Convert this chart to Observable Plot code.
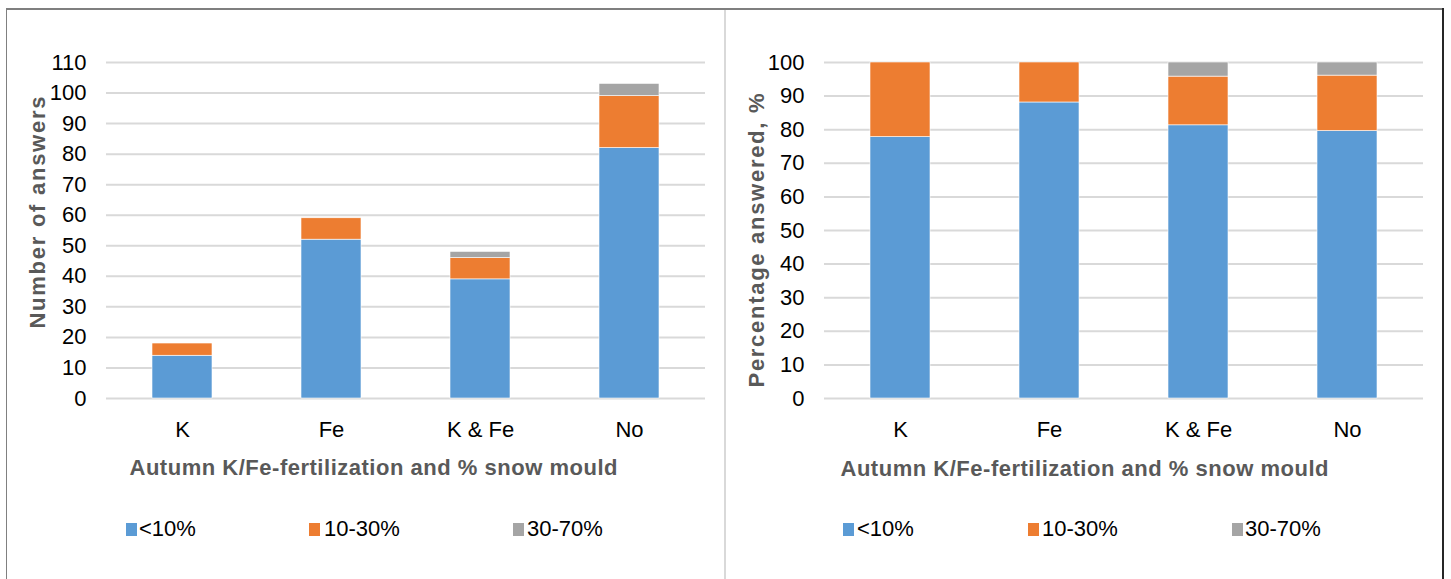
<!DOCTYPE html>
<html>
<head>
<meta charset="utf-8">
<script src="https://cdn.jsdelivr.net/npm/d3@7"></script>
<script src="https://cdn.jsdelivr.net/npm/@observablehq/plot@0.6"></script>
<style>
  html, body { margin: 0; padding: 0; background: #fff; }
  #wrap { position: relative; width: 1451px; height: 579px; overflow: hidden; background: #fff;
          font-family: "Liberation Sans", Arial, sans-serif; }
  .panel { position: absolute; top: 0; }
  .line { position: absolute; z-index: 5; }
  .sw { position: absolute; width: 11px; height: 13px; }
  .lt { position: absolute; font-size: 22px; color: #000; white-space: nowrap; line-height: 22px; }
</style>
</head>
<body>
<div id="wrap"></div>
<script>
// ---- data ----
const categories = ["K", "Fe", "K & Fe", "No"];
const series = ["<10%", "10-30%", "30-70%"];
const colors = ["#5b9bd5", "#ed7d31", "#a5a5a5"];

// left chart: number of answers
const countLow  = [14, 52, 39, 82];
const countMid  = [4, 7, 7, 17];
const countHigh = [0, 0, 2, 4];
const countTicks = [0, 10, 20, 30, 40, 50, 60, 70, 80, 90, 100, 110];

// right chart: percentage answered
const pctLow  = [77.8, 88.1, 81.3, 79.6];
const pctMid  = [22.2, 11.9, 14.5, 16.5];
const pctHigh = [0, 0, 4.2, 3.9];
const pctTicks = [0, 10, 20, 30, 40, 50, 60, 70, 80, 90, 100];

const xTitle = "Autumn K/Fe-fertilization and % snow mould";
const yTitleLeft = "Number of answers";
const yTitleRight = "Percentage answered, %";

const FONT = "'Liberation Sans', Arial, sans-serif";

function longData(low, mid, high) {
  const rows = [];
  categories.forEach((c, i) => {
    [low[i], mid[i], high[i]].forEach((v, j) => {
      if (v > 0) rows.push({cat: c, series: series[j], value: v});
    });
  });
  return rows;
}

function makeChart(o) {
  const data = longData(o.low, o.mid, o.high);
  const svg = Plot.plot({
    width: o.width,
    height: 500,
    marginTop: 62,
    marginBottom: 102,
    marginLeft: o.marginLeft,
    marginRight: o.marginRight,
    style: {fontFamily: FONT, fontSize: "22px", color: "#000", background: "transparent", overflow: "visible"},
    x: {domain: categories, paddingInner: 0.6, paddingOuter: 0.3, label: null},
    y: {domain: [0, o.yMax], label: null},
    color: {domain: series, range: colors},
    marks: [
      Plot.gridY(o.ticks, {stroke: "#d9d9d9", strokeOpacity: 1, strokeWidth: 2}),
      Plot.barY(data, {x: "cat", y: "value", fill: "series", stroke: "#ffffff", strokeWidth: 0.6}),
      Plot.axisY(o.ticks, {tickSize: 0, tickPadding: 20, fontSize: 22, label: null}),
      Plot.axisX({tickSize: 0, tickPadding: 23, fontSize: 22, label: null}),
      Plot.text([o.yTitle], {text: d => d, frameAnchor: "left", textAnchor: "middle", rotate: -90,
        dx: o.yDx, dy: o.yDy, fontSize: 22, fontWeight: "bold", fill: "#595959"}),
      Plot.text([xTitle], {text: d => d, frameAnchor: "bottom", textAnchor: "middle", dx: o.xDx, dy: o.xDy,
        fontSize: 22, fontWeight: "bold", fill: "#595959"})
    ]
  });
  d3.select(svg).selectAll("text").each(function() {
    const t = this.textContent;
    if (t === o.yTitle) d3.select(this).attr("textLength", o.yLen).attr("lengthAdjust", "spacing");
    if (t === xTitle) d3.select(this).attr("textLength", 488).attr("lengthAdjust", "spacing");
  });
  const div = document.createElement("div");
  div.className = "panel";
  div.style.left = o.left + "px";
  div.appendChild(svg);
  return div;
}

const wrap = document.getElementById("wrap");

wrap.appendChild(makeChart({
  left: 0, width: 725, marginLeft: 106, marginRight: 20,
  low: countLow, mid: countMid, high: countHigh, yMax: 110, ticks: countTicks,
  yTitle: yTitleLeft, yDx: -69, yDy: -18, yLen: 232, xDx: -32.5, xDy: 76
}));

wrap.appendChild(makeChart({
  left: 725, width: 726, marginLeft: 99, marginRight: 28,
  low: pctLow, mid: pctMid, high: pctHigh, yMax: 100, ticks: pctTicks,
  yTitle: yTitleRight, yDx: -68, yDy: 10, yLen: 294, xDx: -39.5, xDy: 77
}));

// legends
function legend(swatchX, textX) {
  series.forEach((s, i) => {
    const sw = document.createElement("div");
    sw.className = "sw";
    sw.style.left = swatchX[i] + "px";
    sw.style.top = "523px";
    sw.style.background = colors[i];
    sw.style.zIndex = 4;
    wrap.appendChild(sw);
    const t = document.createElement("div");
    t.className = "lt";
    t.style.left = textX[i] + "px";
    t.style.top = "518px";
    t.style.zIndex = 4;
    t.textContent = s;
    wrap.appendChild(t);
  });
}
legend([126, 309, 513], [139, 324, 527]);
legend([843, 1028, 1232], [857, 1042, 1245]);

// frame lines
function line(l, t, w, h, c) {
  const d = document.createElement("div");
  d.className = "line";
  Object.assign(d.style, {left: l + "px", top: t + "px", width: w + "px", height: h + "px", background: c});
  wrap.appendChild(d);
}
line(7, 8, 1437, 2, "#7f7f7f");
line(6, 8, 1, 571, "#808080");
line(1442, 8, 2, 571, "#262626");
line(724, 10, 2, 569, "#d9d9d9");
</script>
</body>
</html>
